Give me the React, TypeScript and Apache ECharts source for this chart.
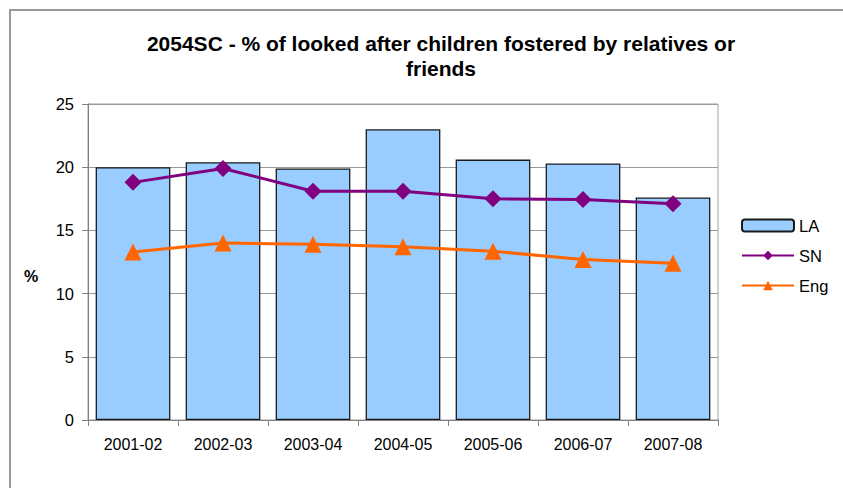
import React, { useEffect, useRef } from "react";
import * as echarts from "echarts";

const categories = ["2001-02", "2002-03", "2003-04", "2004-05", "2005-06", "2006-07", "2007-08"];
const laValues = [20.0, 20.4, 19.9, 23.0, 20.6, 20.3, 17.6];
const snValues = [18.8, 19.9, 18.1, 18.1, 17.5, 17.45, 17.1];
const engValues = [13.3, 14.0, 13.9, 13.7, 13.35, 12.7, 12.4];
const yTicks = { min: 0, max: 25, interval: 5 };
const titleText = "2054SC - % of looked after children fostered by relatives or\nfriends";

export default function App() {
  const ref = useRef<HTMLDivElement>(null);
  useEffect(() => {
    if (!ref.current) return;
    const chart = echarts.init(ref.current, null, { renderer: "svg" });
    const font = "Arial, 'Liberation Sans', sans-serif";
    chart.setOption({
      animation: false,
      backgroundColor: "#ffffff",
      textStyle: { fontFamily: font },
      graphic: [
        {
          type: "rect",
          shape: { x: 10, y: 10, width: 900, height: 600 },
          style: { fill: "none", stroke: "#999999", lineWidth: 2 },
          z: 0,
        },
        {
          type: "text",
          x: 441,
          y: 31,
          style: {
            text: titleText,
            font: "bold 21px Arial, 'Liberation Sans', sans-serif",
            textAlign: "center",
            lineHeight: 25,
            fill: "#000",
          },
        },
        {
          type: "text",
          x: 31,
          y: 276,
          style: {
            text: "%",
            font: "bold 16px Arial, 'Liberation Sans', sans-serif",
            textAlign: "center",
            textVerticalAlign: "middle",
            fill: "#000",
          },
        },
      ],
      legend: {
        orient: "vertical",
        left: 736,
        top: 212,
        itemWidth: 52,
        itemHeight: 12,
        itemGap: 13,
        textStyle: { fontSize: 16.5, color: "#000", fontFamily: font },
        data: ["LA", "SN", "Eng"],
      },
      grid: {
        left: 88,
        right: 125,
        top: 104,
        bottom: 68,
        show: true,
        borderColor: "#a0a0a0",
        borderWidth: 1,
        containLabel: false,
      },
      xAxis: {
        type: "category",
        data: categories,
        boundaryGap: true,
        axisLine: { lineStyle: { color: "#808080", width: 1 } },
        axisTick: { show: true, length: 6, lineStyle: { color: "#808080" } },
        axisLabel: { fontSize: 16, color: "#000", margin: 16, fontFamily: font },
      },
      yAxis: {
        type: "value",
        min: yTicks.min,
        max: yTicks.max,
        interval: yTicks.interval,
        axisLine: { show: true, lineStyle: { color: "#808080", width: 1 } },
        axisTick: { show: true, length: 6, lineStyle: { color: "#808080" } },
        axisLabel: { fontSize: 16.5, color: "#000", margin: 14, fontFamily: font },
        splitLine: { show: true, lineStyle: { color: "#999999", width: 1 } },
      },
      series: [
        {
          name: "LA",
          type: "bar",
          data: laValues,
          barCategoryGap: "17%",
          itemStyle: { color: "#99CCFF", borderColor: "#1a1a1a", borderWidth: 1.3 },
        },
        {
          name: "SN",
          type: "line",
          data: snValues,
          symbol: "diamond",
          symbolSize: 17,
          lineStyle: { color: "#800080", width: 3 },
          itemStyle: { color: "#800080" },
          z: 3,
        },
        {
          name: "Eng",
          type: "line",
          data: engValues,
          symbol: "triangle",
          symbolSize: 17,
          lineStyle: { color: "#FF6600", width: 3 },
          itemStyle: { color: "#FF6600" },
          z: 3,
        },
      ],
    });
    return () => chart.dispose();
  }, []);
  return (
    <div
      ref={ref}
      style={{ position: "fixed", left: 0, top: 0, width: 843, height: 488 }}
    />
  );
}
